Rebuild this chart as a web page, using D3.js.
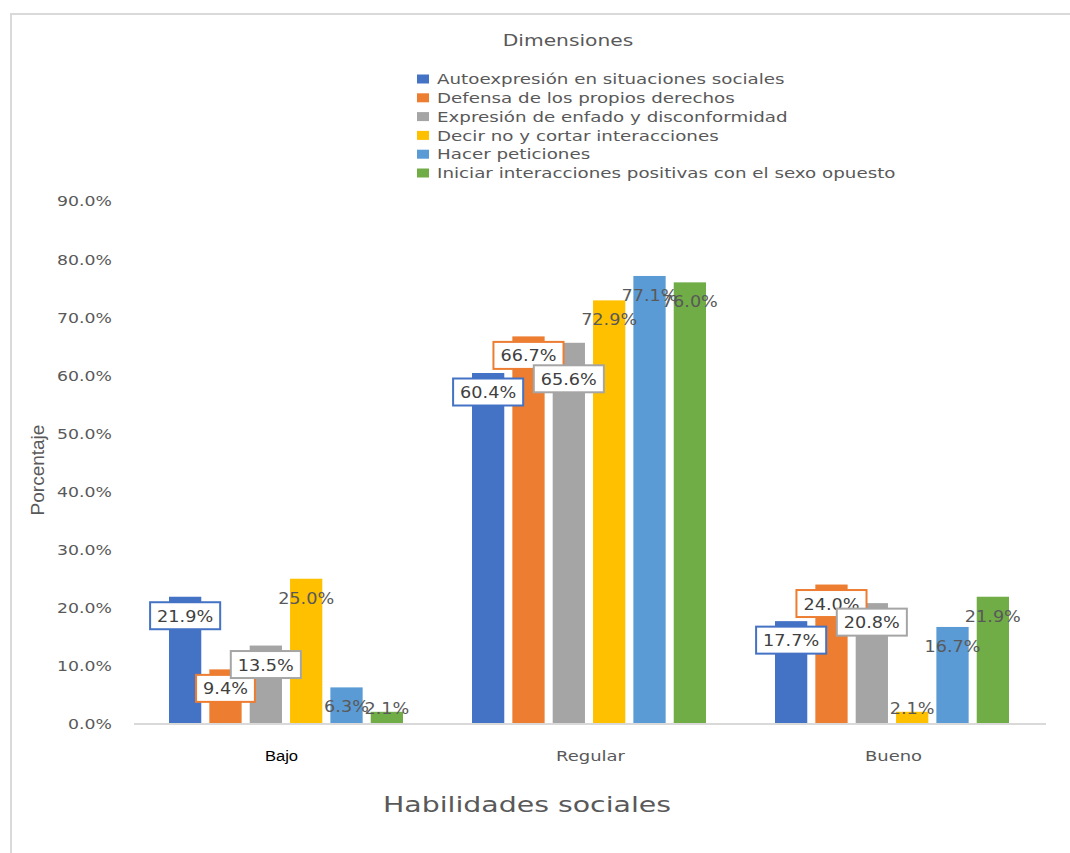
<!DOCTYPE html>
<html><head><meta charset="utf-8">
<script src="https://cdn.jsdelivr.net/npm/d3@7"></script>
<style>body{margin:0;background:#fff}</style>
</head><body>
<svg id="c" width="1070" height="853"></svg>
<script>
// ---------- data ----------
const categories = ["Bajo", "Regular", "Bueno"];
const seriesNames = [
  "Autoexpresión en situaciones sociales",
  "Defensa de los propios derechos",
  "Expresión de enfado y disconformidad",
  "Decir no y cortar interacciones",
  "Hacer peticiones",
  "Iniciar interacciones positivas con el sexo opuesto"
];
const autoexpresion        = [21.9, 60.4, 17.7];
const defensaDerechos      = [9.4, 66.7, 24.0];
const expresionEnfado      = [13.5, 65.6, 20.8];
const decirNo              = [25.0, 72.9, 2.1];
const hacerPeticiones      = [6.3, 77.1, 16.7];
const iniciarInteracciones = [2.1, 76.0, 21.9];
const yTicks = [0, 10, 20, 30, 40, 50, 60, 70, 80, 90];
const titleText = "Dimensiones";
const xTitle = "Habilidades sociales";
const yTitle = "Porcentaje";

// ---------- styles ----------
const seriesValues = [autoexpresion, defensaDerechos, expresionEnfado, decirNo, hacerPeticiones, iniciarInteracciones];
const colors = ["#4472C4", "#ED7D31", "#A5A5A5", "#FFC000", "#5B9BD5", "#70AD47"];
const boxed = [true, true, true, false, false, false];
const FONT = "'DejaVu Sans', Verdana, sans-serif";

const svg = d3.select("#c");
svg.append("rect").attr("x", 0).attr("y", 0).attr("width", 1070).attr("height", 853).attr("fill", "#fff");
// chart frame
svg.append("path").attr("d", "M11,853 V14 H1070").attr("fill", "none").attr("stroke", "#d9d9d9").attr("stroke-width", 2);

const plot = {left: 136, right: 1045, top: 201, bottom: 724};
const x0 = d3.scaleBand().domain(categories).range([plot.left, plot.right]).padding(0);
const x1 = d3.scaleBand().domain(d3.range(seriesNames.length)).range([33, 267]).paddingInner(0.2).paddingOuter(0);
const y = d3.scaleLinear().domain([0, 90]).range([plot.bottom, plot.top]);

function sText(g, x, yy, txt, o) {
  return g.append("text")
    .attr("transform", `translate(${x},${yy}) scale(${o.sx || 1},1)`)
    .attr("text-anchor", o.anchor || "start")
    .attr("font-family", o.font || FONT)
    .attr("font-size", o.fs)
    .attr("fill", o.fill || "#595959")
    .text(txt);
}

// title
sText(svg, 568, 45.5, titleText, {fs: 15, sx: 1.35, anchor: "middle"});

// legend
const leg = svg.append("g");
seriesNames.forEach((n, i) => {
  const cy = 79 + i * 18.8;
  leg.append("rect").attr("x", 417).attr("y", cy - 4.5).attr("width", 12).attr("height", 9).attr("fill", colors[i]);
  sText(leg, 437, cy + 5.2, n, {fs: 14.5, sx: 1.26});
});

// y axis (labels only)
const yAxis = d3.axisLeft(y).tickValues(yTicks).tickSize(0).tickFormat(d => d.toFixed(1) + "%");
const ya = svg.append("g").attr("transform", `translate(${plot.left},0)`).call(yAxis);
ya.select(".domain").remove();
ya.selectAll(".tick text").each(function(d) {
  const t = d3.select(this);
  t.attr("x", null).attr("dy", null)
   .attr("transform", `translate(${112 - plot.left},4.9) scale(1.28,1)`)
   .attr("text-anchor", "end").attr("font-family", FONT).attr("font-size", 13.5).attr("fill", "#595959");
});

// y title
svg.append("text").attr("transform", `translate(44,470) rotate(-90)`)
  .attr("text-anchor", "middle").attr("font-family", "'Liberation Sans Narrow', 'Liberation Sans', Arial, sans-serif")
  .attr("font-size", 19).attr("fill", "#595959").text(yTitle);

// bars
const groups = svg.append("g").selectAll("g").data(categories).join("g")
  .attr("transform", d => `translate(${x0(d)},0)`);
groups.each(function(cat, ci) {
  const g = d3.select(this);
  seriesValues.forEach((vals, si) => {
    g.append("rect").attr("x", x1(si)).attr("y", y(vals[ci])).attr("width", x1.bandwidth())
      .attr("height", y(0) - y(vals[ci])).attr("fill", colors[si]);
  });
});

// baseline
svg.append("line").attr("x1", 134).attr("x2", 1046).attr("y1", y(0)).attr("y2", y(0))
  .attr("stroke", "#d9d9d9").attr("stroke-width", 2);

// data labels
const nudge = {"1-2": 17};
const labels = svg.append("g");
categories.forEach((cat, ci) => {
  seriesValues.forEach((vals, si) => {
    const v = vals[ci];
    const cx = x0(cat) + x1(si) + x1.bandwidth() / 2;
    let cy = Math.min(y(v) + 19, y(0) - 16) + (nudge[ci + "-" + si] || 0);
    const fs = 16.5, sx = 1.07;
    const g = labels.append("g");
    const t = sText(g, cx, cy + fs * 0.729 / 2, v.toFixed(1) + "%",
      {fs: fs, sx: sx, anchor: "middle", fill: boxed[si] ? "#404040" : "#595959"});
    if (boxed[si]) {
      const w = t.node().getComputedTextLength() * sx + 14;
      g.insert("rect", "text").attr("x", cx - w / 2).attr("y", cy - 13.5).attr("width", w).attr("height", 27)
        .attr("fill", "#fff").attr("stroke", colors[si]).attr("stroke-width", 2);
    }
  });
});

// category labels
categories.forEach((cat, ci) => {
  const cx = x0(cat) + x0.bandwidth() / 2;
  if (ci === 0) {
    sText(svg, cx - 6, 761, cat, {fs: 15.5, sx: 1.07, anchor: "middle", fill: "#000", font: "'Liberation Sans', Arial, sans-serif"});
  } else {
    sText(svg, cx, 761, cat, {fs: 14.5, sx: 1.24, anchor: "middle"});
  }
});

// x title
sText(svg, 527, 812, xTitle, {fs: 22, sx: 1.29, anchor: "middle"});
</script>
</body></html>
